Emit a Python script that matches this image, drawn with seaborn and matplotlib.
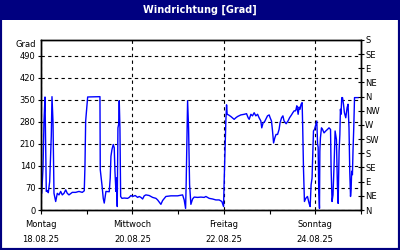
import matplotlib
matplotlib.use("Agg")
import matplotlib.pyplot as plt
from matplotlib.patches import Rectangle
from matplotlib.ticker import FixedLocator
import seaborn as sns
import pandas as pd

# hours since Monday 18.08.25 00:00
hours = [0.4, 1.05, 1.57, 2.1, 2.78, 3.3, 3.83, 4.56, 5.4, 5.77, 6.3, 6.82, 7.71, 8.55, 9.44,
         10.33, 11.17, 12.07, 12.96, 13.8, 14.69, 16.42, 18.2, 19.93, 21.67, 22.71, 23.08, 23.45,
         24.5, 30.95, 31.11, 32.0, 32.68, 33.2, 33.73, 34.1, 35.83, 36.35, 36.72, 37.25, 37.93,
         38.45, 38.82, 39.34, 39.71, 40.03, 40.39, 40.76, 41.08, 41.44, 41.81, 42.49, 43.7, 45.48,
         46.32, 47.21, 48.1, 49.47, 50.73, 51.57, 52.46, 53.35, 54.19, 55.08, 56.81, 58.6, 60.33,
         61.22, 62.95, 63.84, 65.57, 68.2, 71.71, 74.34, 75.17, 75.91, 76.22, 76.96, 77.48, 78.01,
         78.69, 79.58, 80.42, 82.2, 83.94, 85.67, 86.56, 88.29, 90.07, 91.8, 93.54, 94.95, 95.84,
         96.16, 96.68, 97.05, 97.42, 97.73, 98.47, 99.67, 101.4, 102.3, 103.2, 104.9, 106.7, 107.9,
         108.75, 109.3, 110.2, 111.05, 111.9, 112.8, 113.7, 114.5, 115.4, 115.9, 116.6, 117.35,
         118.0, 118.9, 119.8, 120.3, 121.0, 121.55, 122.1, 122.75, 123.4, 124.2, 125.0, 125.5,
         126.3, 127.0, 127.6, 128.7, 129.7, 130.5, 131.5, 132.2, 132.9, 133.6, 133.9, 134.3, 135.0,
         135.5, 136.0, 136.55, 137.1, 137.4, 137.8, 138.3, 139.0, 139.9, 140.75, 141.3, 141.8,
         142.3, 142.7, 143.05, 143.6, 144.1, 144.8, 145.2, 145.5, 145.8, 146.2, 146.4, 146.7,
         147.25, 147.8, 148.6, 149.5, 150.4, 151.2, 152.0, 152.3, 152.8, 153.3, 153.9, 154.4,
         155.1, 155.6, 156.0, 156.5, 156.9, 157.2, 157.5, 157.9, 158.3, 158.8, 159.3, 160.0,
         160.7, 161.2, 161.7, 162.1, 162.5, 162.8, 163.1, 163.5, 163.8, 164.2, 164.6, 166.7]
degrees = [53, 133, 283, 359, 59, 62, 55, 90, 235, 360, 280, 53, 27, 53, 48,
           59, 48, 53, 64, 53, 48, 56, 56, 59, 56, 61, 139, 283,
           359, 360, 128, 80, 37, 22, 45, 59, 58, 102, 171, 192, 208,
           198, 123, 59, 102, 11, 261, 272, 347, 261, 43, 37, 38, 37,
           40, 46, 43, 46, 40, 43, 40, 35, 45, 48, 46, 40, 37,
           32, 18, 30, 43, 45, 45, 48, 32, 5, 85, 347, 261, 80,
           18, 35, 41, 40, 41, 40, 43, 37, 35, 32, 32, 27, 11,
           91, 200, 283, 334, 304, 302, 297, 288, 293, 297, 302, 304, 306,
           293, 288, 304, 299, 309, 299, 304, 293, 283, 261, 277, 280,
           288, 299, 302, 293, 283, 251, 213, 229, 240, 240, 256, 277,
           293, 299, 283, 274, 283, 293, 302, 309, 315, 315, 320, 331, 304,
           327, 320, 336, 341, 261, 133, 27, 37, 43, 21, 11, 80,
           101, 176, 251, 256, 267, 283, 208, 200, 69, 5, 187, 229,
           261, 256, 245, 251, 256, 261, 256, 133, 27, 48, 150, 251,
           224, 80, 21, 187, 240, 320, 304, 357, 357, 336, 309, 293,
           325, 336, 261, 123, 43, 64, 123, 112, 187, 261, 357, 357]

day_labels = ["Montag\n18.08.25", "Mittwoch\n20.08.25", "Freitag\n22.08.25", "Sonntag\n24.08.25"]
left_ticks = [0, 70, 140, 210, 280, 350, 420, 490]
compass = ["N", "NE", "E", "SE", "S", "SW", "W", "NW", "N", "NE", "E", "SE", "S"]

sns.set_theme(style="white")
plt.rcParams["font.family"] = ["DejaVu Sans"]

navy = "#000080"
fig = plt.figure(figsize=(4, 2.5), dpi=100)
fig.patch.set_facecolor("white")
fig.patches.append(Rectangle((0, 230 / 250), 1, 20 / 250, transform=fig.transFigure,
                             facecolor=navy, edgecolor="none", zorder=0))
fig.patches.append(Rectangle((0, 0), 1, 1, transform=fig.transFigure, fill=False,
                             edgecolor=navy, linewidth=3.0, zorder=5))
fig.text(0.5, 240 / 250, "Windrichtung [Grad]", color="white", weight="bold",
         ha="center", va="center", fontsize=7)

ax = fig.add_axes([41 / 400, 40 / 250, 320 / 400, 170 / 250])
df = pd.DataFrame({"hours": hours, "deg": degrees})
sns.lineplot(data=df, x="hours", y="deg", ax=ax, color="#0000ff", linewidth=1.0)
ax.set_xlim(0, 168)
ax.set_ylim(0, 540)
ax.set_xlabel("")
ax.set_ylabel("")

for s in ax.spines.values():
    s.set_color("black")
    s.set_linewidth(1.0)

ax.set_yticks(left_ticks)
ax.set_yticklabels([str(v) for v in left_ticks])
ax.set_xticks([0, 48, 96, 144])
ax.set_xticklabels(day_labels, linespacing=1.9)
ax.xaxis.set_minor_locator(FixedLocator([24, 72, 120, 168]))
ax.tick_params(axis="x", which="both", direction="out", length=3, width=0.8, color="black",
               labelsize=6, pad=4, labelcolor="black", bottom=True)
ax.tick_params(axis="y", direction="out", length=2, width=0.8, color="black",
               labelsize=6, pad=2, labelcolor="black", left=True)
ax.grid(True, which="major", color="black", linestyle=(0, (3, 3)), linewidth=0.8)
ax.text(-0.015, 1.0 - 5 / 170, "Grad", transform=ax.transAxes, ha="right", va="center",
        fontsize=6, color="black")

ax2 = ax.twinx()
ax2.set_ylim(0, 540)
ax2.set_yticks(list(range(0, 541, 45)))
ax2.set_yticklabels(compass)
ax2.tick_params(axis="y", direction="inout", length=4, width=0.8, color="black",
                labelsize=6, pad=1, labelcolor="black", right=True)
ax2.grid(False)
for s in ax2.spines.values():
    s.set_color("black")
    s.set_linewidth(1.0)

fig.savefig("out.png", dpi=100, facecolor=fig.get_facecolor())
